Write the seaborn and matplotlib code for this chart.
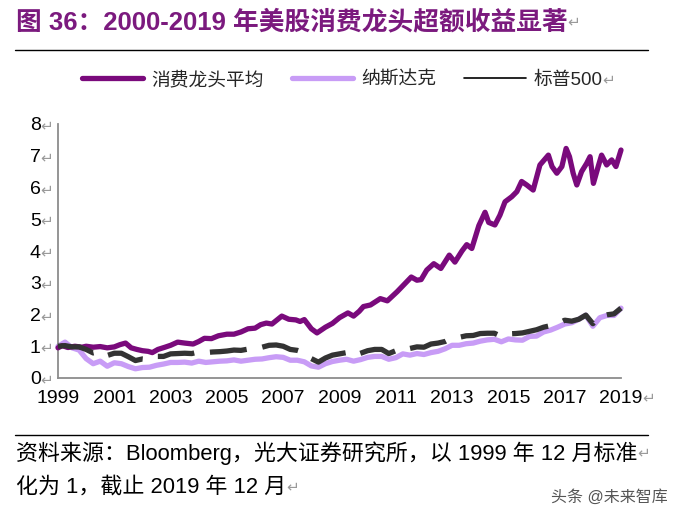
"""
Consumer leaders vs Nasdaq vs S&P 500, normalised to Dec 1999 = 1
"""
import numpy as np
import pandas as pd
import matplotlib
matplotlib.use("Agg")
import matplotlib.pyplot as plt
import seaborn as sns
from matplotlib.lines import Line2D

sns.set_theme(style="white")
plt.rcParams["font.family"] = ["Liberation Sans", "Noto Sans CJK SC", "DejaVu Sans"]

W, H = 680, 520

# quarterly points, 1999 = Dec 1999 ... 2019 = Dec 2019
quarters = np.arange(1999, 2019.01, 0.25)

sp500 = [1.00, 1.02, 0.98, 0.98, 0.90, 0.79, 0.84, 0.71, 0.78, 0.78, 0.67, 0.55,
         0.60, 0.58, 0.68, 0.68, 0.76, 0.77, 0.78, 0.77, 0.82, 0.80, 0.82, 0.83,
         0.85, 0.88, 0.87, 0.91, 0.96, 0.97, 1.03, 1.04, 1.00, 0.90, 0.87, 0.80,
         0.61, 0.50, 0.63, 0.72, 0.76, 0.80, 0.70, 0.78, 0.86, 0.90, 0.90, 0.77,
         0.86, 0.96, 0.93, 0.98, 0.97, 1.07, 1.10, 1.15, 1.26, 1.28, 1.33, 1.34,
         1.40, 1.41, 1.41, 1.31, 1.39, 1.40, 1.42, 1.47, 1.52, 1.60, 1.65, 1.71,
         1.82, 1.79, 1.85, 1.98, 1.71, 1.94, 1.99, 2.02, 2.20]

nasdaq = [1.00, 1.13, 0.95, 0.88, 0.61, 0.45, 0.53, 0.37, 0.48, 0.45, 0.36, 0.29,
          0.33, 0.34, 0.40, 0.44, 0.49, 0.49, 0.50, 0.47, 0.53, 0.49, 0.51, 0.53,
          0.54, 0.57, 0.53, 0.56, 0.59, 0.60, 0.64, 0.67, 0.65, 0.56, 0.56, 0.51,
          0.38, 0.34, 0.45, 0.52, 0.56, 0.59, 0.53, 0.58, 0.65, 0.68, 0.68, 0.59,
          0.64, 0.76, 0.72, 0.77, 0.74, 0.80, 0.84, 0.92, 1.03, 1.03, 1.08, 1.10,
          1.16, 1.20, 1.22, 1.14, 1.23, 1.20, 1.19, 1.31, 1.32, 1.45, 1.51, 1.60,
          1.70, 1.74, 1.85, 1.98, 1.63, 1.90, 1.97, 1.97, 2.20]

consumer_t = [1999.00, 1999.15, 1999.35, 1999.60, 1999.85, 2000.00, 2000.25, 2000.50,
              2000.75, 2001.00, 2001.20, 2001.40, 2001.60, 2001.80, 2002.00, 2002.20,
              2002.35, 2002.55, 2002.80, 2003.00, 2003.25, 2003.50, 2003.80, 2004.00,
              2004.20, 2004.45, 2004.70, 2005.00, 2005.25, 2005.50, 2005.75, 2006.00,
              2006.20, 2006.40, 2006.60, 2006.95, 2007.20, 2007.45, 2007.60, 2007.75,
              2008.00, 2008.20, 2008.50, 2008.75, 2009.00, 2009.30, 2009.50, 2009.70,
              2009.85, 2010.10, 2010.45, 2010.70, 2011.05, 2011.30, 2011.55, 2011.75,
              2011.90, 2012.10, 2012.35, 2012.60, 2012.90, 2013.10, 2013.35, 2013.52,
              2013.70, 2013.95, 2014.17, 2014.30, 2014.52, 2014.70, 2014.88, 2015.12,
              2015.30, 2015.47, 2015.65, 2015.88, 2016.12, 2016.42, 2016.55, 2016.72,
              2016.90, 2017.05, 2017.17, 2017.30, 2017.43, 2017.60, 2017.78, 2017.90,
              2018.02, 2018.19, 2018.31, 2018.49, 2018.67, 2018.82, 2019.00]
consumer = [0.95, 1.02, 0.96, 1.00, 0.97, 1.00, 0.97, 0.99,
            0.95, 0.98, 1.05, 1.10, 0.95, 0.90, 0.86, 0.84,
            0.80, 0.90, 0.97, 1.03, 1.13, 1.10, 1.07, 1.15,
            1.25, 1.24, 1.33, 1.38, 1.38, 1.45, 1.55, 1.57,
            1.68, 1.73, 1.70, 1.95, 1.85, 1.83, 1.78, 1.84,
            1.55, 1.42, 1.60, 1.72, 1.90, 2.05, 1.95, 2.10,
            2.25, 2.30, 2.50, 2.43, 2.72, 2.95, 3.18, 3.08,
            3.10, 3.40, 3.60, 3.45, 3.87, 3.65, 4.00, 4.20,
            4.08, 4.80, 5.22, 4.90, 4.82, 5.13, 5.55, 5.71,
            5.87, 6.19, 6.08, 5.92, 6.71, 7.02, 6.66, 6.45,
            6.66, 7.23, 6.97, 6.45, 6.08, 6.50, 6.76, 6.97,
            6.13, 6.66, 7.02, 6.71, 6.87, 6.66, 7.18]

series_names = ["消费龙头平均", "纳斯达克", "标普500"]
PURPLE = "#7a0a7c"
LAVENDER = "#c89cf6"
DARK = "#333333"
GRAY = "#8c8c8c"
MARK = "#9a9a9a"

fig = plt.figure(figsize=(W / 100, H / 100), dpi=100)
ax = fig.add_axes([58 / W, 1 - 378 / H, 563 / W, 254 / H])

df_c = pd.DataFrame({"year": consumer_t, "value": consumer})
df_n = pd.DataFrame({"year": quarters, "value": nasdaq})
df_s = pd.DataFrame({"year": quarters, "value": sp500})

sns.lineplot(data=df_c, x="year", y="value", ax=ax, color=PURPLE, linewidth=3.8,
             estimator=None, clip_on=False, zorder=3)
sns.lineplot(data=df_n, x="year", y="value", ax=ax, color=LAVENDER, linewidth=3.8,
             estimator=None, clip_on=False, zorder=2)
sns.lineplot(data=df_s, x="year", y="value", ax=ax, color=DARK, linewidth=3.8,
             linestyle=(0, (7, 3)), estimator=None, clip_on=False, zorder=4)

ax.set_xlim(1999, 2019)
ax.set_ylim(0, 8)
ax.set_xticks(range(1999, 2020, 2))
ax.set_yticks(range(0, 9))
ax.set_xlabel("")
ax.set_ylabel("")
for side in ["top", "right"]:
    ax.spines[side].set_visible(False)
for side in ["left", "bottom"]:
    ax.spines[side].set_color(GRAY)
    ax.spines[side].set_linewidth(1.3)
ax.tick_params(axis="x", direction="out", length=4, width=1.3, color=GRAY,
               labelsize=14, pad=4.5, labelcolor="black")
ax.tick_params(axis="y", direction="in", length=3, width=1.3, color=GRAY,
               labelsize=14, pad=12.5, labelcolor="black")
ax.grid(False)

# title + rules
title = fig.text(16 / W, 1 - 22 / H, "图 36：2000-2019 年美股消费龙头超额收益显著",
                 fontsize=18.5, fontweight="bold", color="#7b1a7e", va="center", ha="left")
fig.add_artist(Line2D([15 / W, 648 / W], [1 - 50 / H] * 2, color="black", lw=1.0))
fig.add_artist(Line2D([15 / W, 648 / W], [1 - 435 / H] * 2, color="black", lw=1.0))

# legend
handles = [Line2D([], [], color=PURPLE, lw=3.8),
           Line2D([], [], color=LAVENDER, lw=3.8),
           Line2D([], [], color="black", lw=1.2)]
leg = fig.legend(handles, series_names, loc="center", bbox_to_anchor=(0.503, 1 - 80 / H),
                 ncol=3, frameon=False, fontsize=13.5, handlelength=3.3,
                 handletextpad=0.4, columnspacing=1.5)

# footer
foot1 = fig.text(16 / W, 1 - 453 / H,
                 "资料来源：Bloomberg，光大证券研究所，以 1999 年 12 月标准",
                 fontsize=15.8, va="center", ha="left", color="black")
foot2 = fig.text(16 / W, 1 - 487 / H, "化为 1，截止 2019 年 12 月",
                 fontsize=15.8, va="center", ha="left", color="black")
fig.text(668 / W, 1 - 497 / H, "头条 @未来智库", fontsize=11.5, color="#555555",
         ha="right", va="center")

# grey paragraph marks after texts
fig.canvas.draw()
marked = [title, foot1, foot2, leg.get_texts()[-1], ax.get_xticklabels()[-1]]
marked += list(ax.get_yticklabels())
for t in marked:
    bb = t.get_window_extent()
    fig.text(bb.x1 / W, (bb.y0 + bb.y1) / 2 / H, "↵", fontsize=11, color=MARK,
             ha="left", va="center", family=["DejaVu Sans"])

fig.savefig("out.png", dpi=100)
